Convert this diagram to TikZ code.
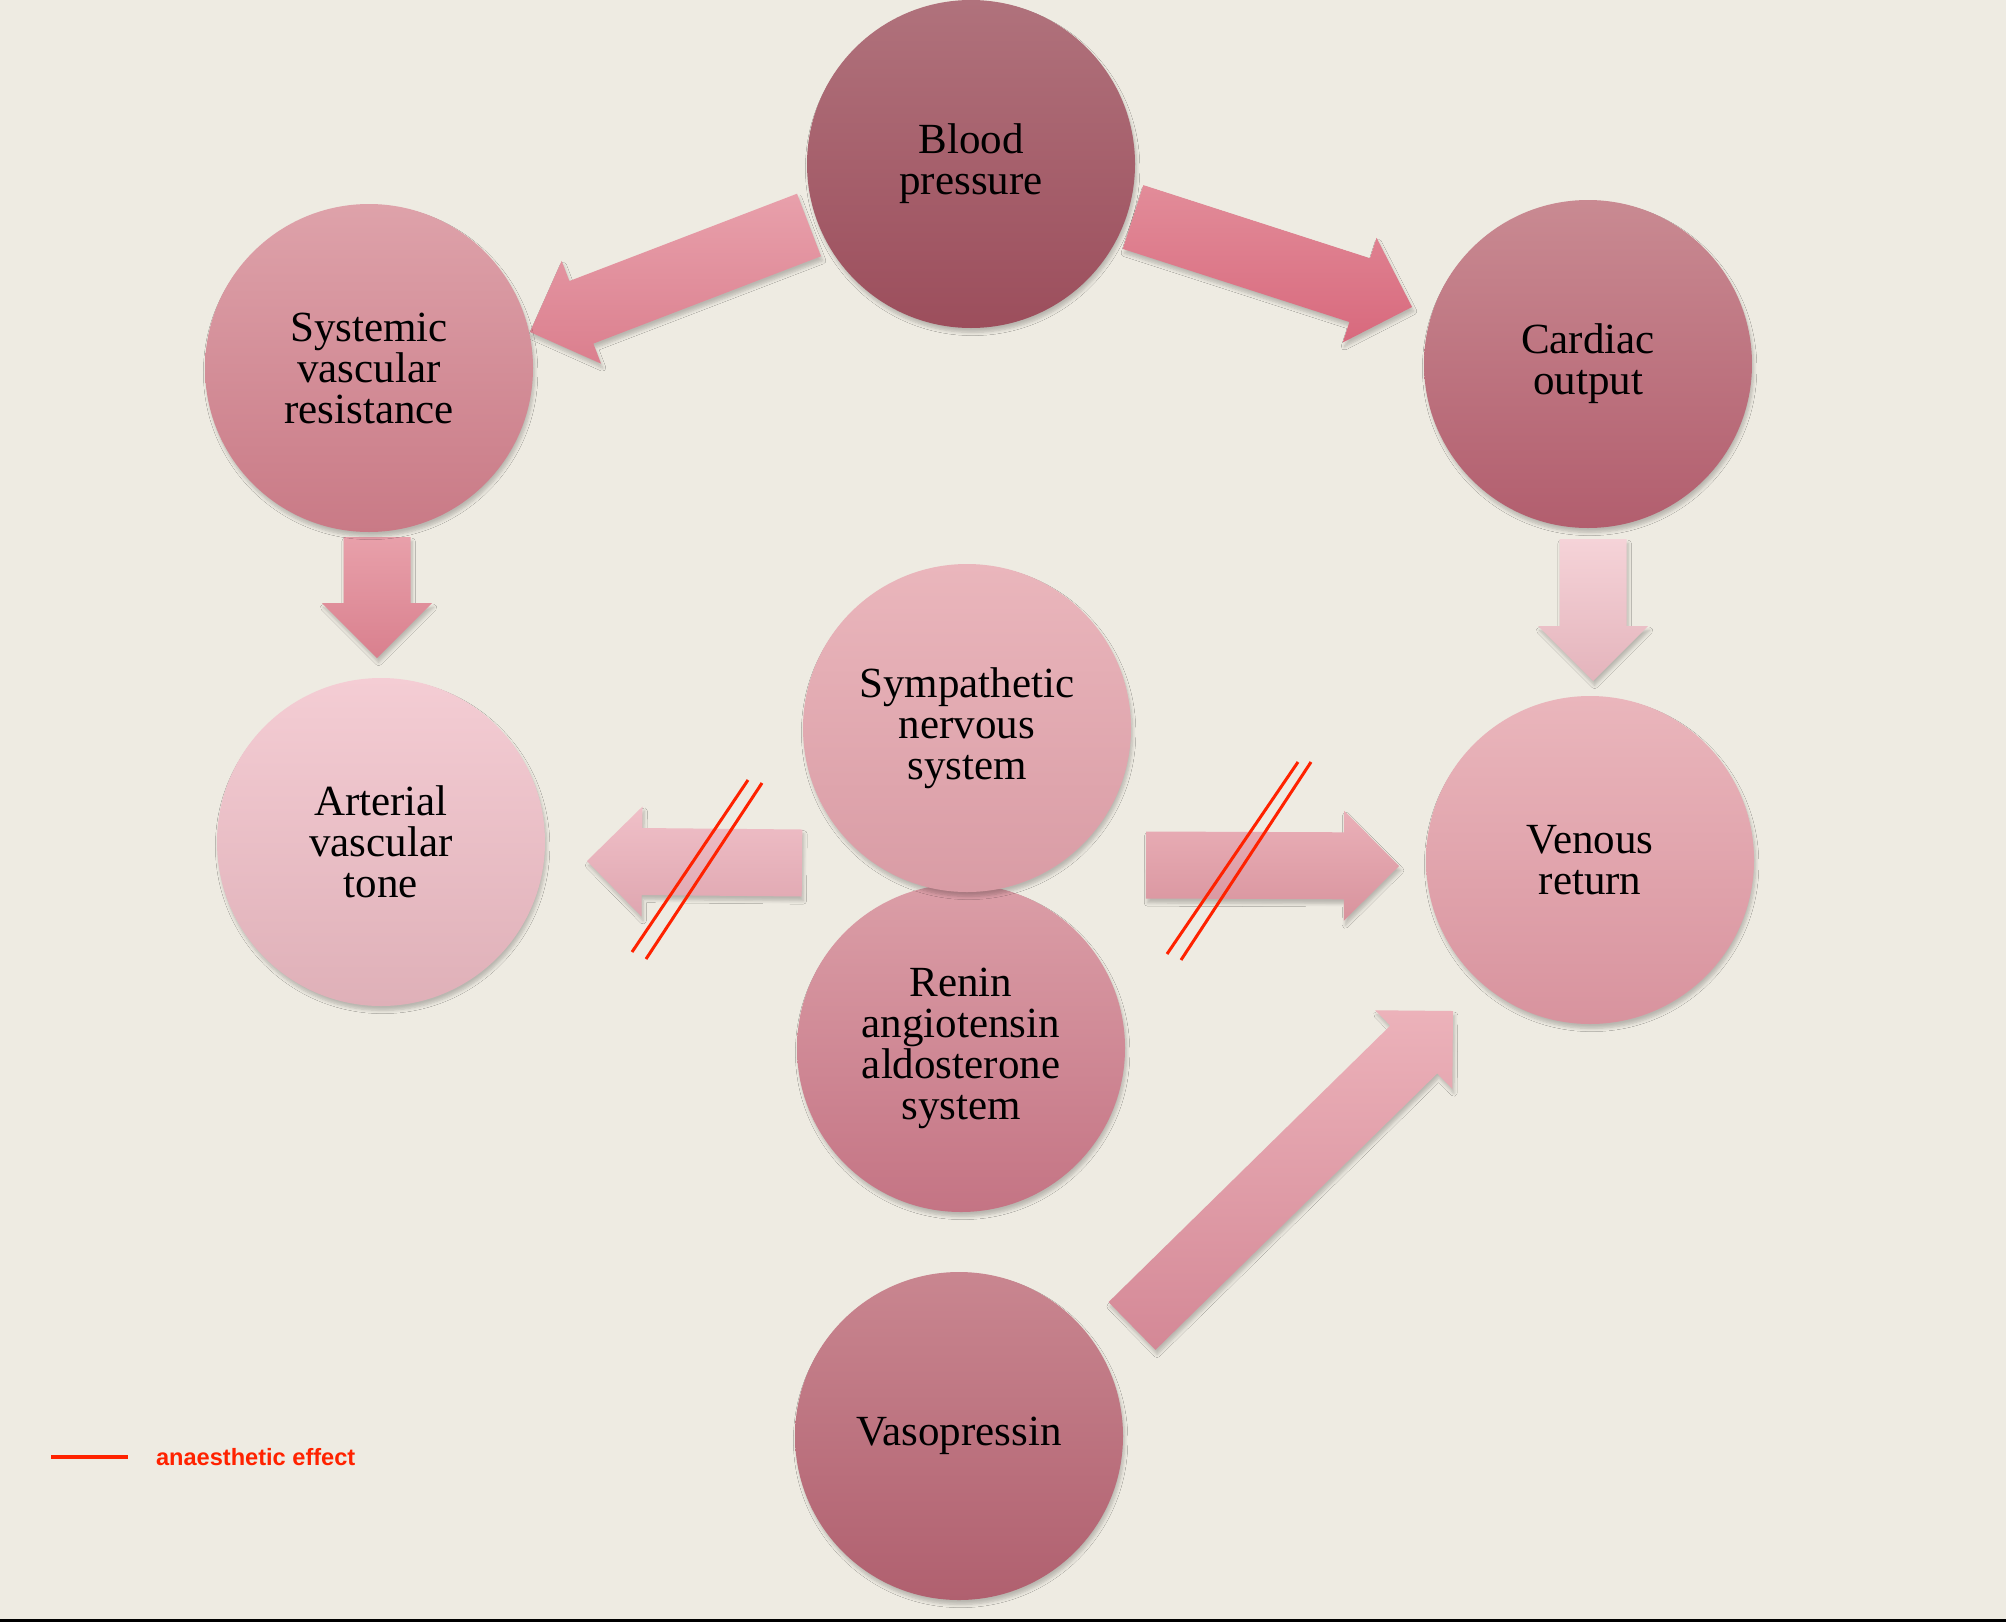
\documentclass[tikz,border=0pt]{standalone}
\usepackage{fontspec}
\setmainfont{Liberation Serif}
\newfontfamily\legendfont{Liberation Sans}
\usetikzlibrary{calc,shadows.blur}

\definecolor{paper}{HTML}{EEEBE2}
\definecolor{anred}{HTML}{FF2200}
\definecolor{bpT}{HTML}{B0727C}   \definecolor{bpB}{HTML}{9C4E5C}
\definecolor{svrT}{HTML}{DEA2AA}  \definecolor{svrB}{HTML}{C97A86}
\definecolor{coT}{HTML}{C98A92}   \definecolor{coB}{HTML}{B25E6E}
\definecolor{avtT}{HTML}{F4CDD4}  \definecolor{avtB}{HTML}{DFB0B8}
\definecolor{vrT}{HTML}{EAB6BC}   \definecolor{vrB}{HTML}{D8939E}
\definecolor{raasT}{HTML}{DB9EA7} \definecolor{raasB}{HTML}{C47484}
\definecolor{snsT}{HTML}{EAB6BC}  \definecolor{snsB}{HTML}{D99CA5}
\definecolor{vasoT}{HTML}{C98690} \definecolor{vasoB}{HTML}{B0606F}
\definecolor{aoneT}{HTML}{E8A0AB}   \definecolor{aoneB}{HTML}{DB7F8E}
\definecolor{atwoT}{HTML}{E28C99}   \definecolor{atwoB}{HTML}{D8697D}
\definecolor{athreeT}{HTML}{E8A0AA} \definecolor{athreeB}{HTML}{D9808E}
\definecolor{afourT}{HTML}{F5D3D8}  \definecolor{afourB}{HTML}{E4B4BC}
\definecolor{afiveT}{HTML}{F0C0C8}  \definecolor{afiveB}{HTML}{DFA6B0}
\definecolor{asixT}{HTML}{EAB0B8}   \definecolor{asixB}{HTML}{D8939D}
\definecolor{asevenT}{HTML}{ECB2BA} \definecolor{asevenB}{HTML}{D48896}

\tikzset{
  softshadow/.style={blur shadow={shadow xshift=0.8pt,shadow yshift=-2.2pt,shadow blur radius=1.6pt,shadow blur steps=6,shadow opacity=22}},
  bubble/.style={circle,minimum size=164pt,inner sep=0pt,align=center,softshadow,
    font=\fontsize{21.5}{20.5}\selectfont},
  bigarrow/.style={softshadow},
  cutmark/.style={draw=anred,line width=1.5pt}
}

\newcommand{\bigarrow}[3]{%
  \coordinate (hb) at ($(#3)!27.5pt!(#2)$);
  \path[bigarrow,top color=#1T,bottom color=#1B]
    ($(#2)!16.75pt!90:(#3)$) -- ($(hb)!16.75pt!90:(#3)$) -- ($(hb)!27.5pt!90:(#3)$)
    -- (#3) -- ($(hb)!27.5pt!-90:(#3)$) -- ($(hb)!16.75pt!-90:(#3)$)
    -- ($(#2)!16.75pt!-90:(#3)$) -- cycle;
}

\begin{document}
\begin{tikzpicture}[x=0.5pt,y=-0.5pt]
  \useasboundingbox (0,0) rectangle (2006,1622);
  \fill[paper] (0,0) rectangle (2006,1622);
  \fill[black] (0,1619) rectangle (2006,1622);

  \coordinate (bp-l) at (809,225);    \coordinate (svr-in) at (530,332);
  \coordinate (bp-r) at (1133,217);   \coordinate (co-in) at (1412,307);
  \coordinate (svr-out) at (377,537); \coordinate (avt-in) at (377,658);
  \coordinate (co-out) at (1593,539); \coordinate (vr-in) at (1593,681);
  \coordinate (sns-l) at (802,863);   \coordinate (avt-r) at (587,861);
  \coordinate (sns-r) at (1146,865);  \coordinate (vr-l) at (1399,866);
  \coordinate (vaso-out) at (1132,1326); \coordinate (vr-low) at (1453,1011);

  \bigarrow{aone}{bp-l}{svr-in}
  \bigarrow{atwo}{bp-r}{co-in}
  \bigarrow{athree}{svr-out}{avt-in}
  \bigarrow{afour}{co-out}{vr-in}
  \bigarrow{afive}{sns-l}{avt-r}
  \bigarrow{asix}{sns-r}{vr-l}
  \bigarrow{aseven}{vaso-out}{vr-low}

  \node[bubble,top color=bpT,bottom color=bpB] (bp) at (971,164) {Blood\\pressure};
  \node[bubble,top color=svrT,bottom color=svrB] (svr) at (369,368) {Systemic\\vascular\\resistance};
  \node[bubble,top color=coT,bottom color=coB] (co) at (1588,364) {Cardiac\\output};
  \node[bubble,top color=avtT,bottom color=avtB] (avt) at (381,842) {Arterial\\vascular\\tone};
  \node[bubble,top color=vrT,bottom color=vrB] (vr) at (1590,860) {Venous\\return};
  \node[bubble,top color=raasT,bottom color=raasB] (raas) at (961,1048) {Renin\\angiotensin\\aldosterone\\system};
  \node[bubble,top color=snsT,bottom color=snsB] (sns) at (967,728) {Sympathetic\\nervous\\system};
  \node[bubble,top color=vasoT,bottom color=vasoB] (vaso) at (959,1436) {Vasopressin};

  \foreach \xa/\ya/\xb/\yb in {632/952/748/780,646/959/762/783,1167/954/1298/762,1181/960/1311/762}
    \draw[cutmark] (\xa,\ya) -- (\xb,\yb);

  \coordinate (key) at (51,1457);
  \draw[cutmark,line width=2pt] (key) -- ++(77,0)
    node[anchor=west,inner sep=0pt,xshift=13pt,text=anred,
      font=\legendfont\bfseries\fontsize{11.8}{12}\selectfont] (legend) {anaesthetic effect};
\end{tikzpicture}
\end{document}
